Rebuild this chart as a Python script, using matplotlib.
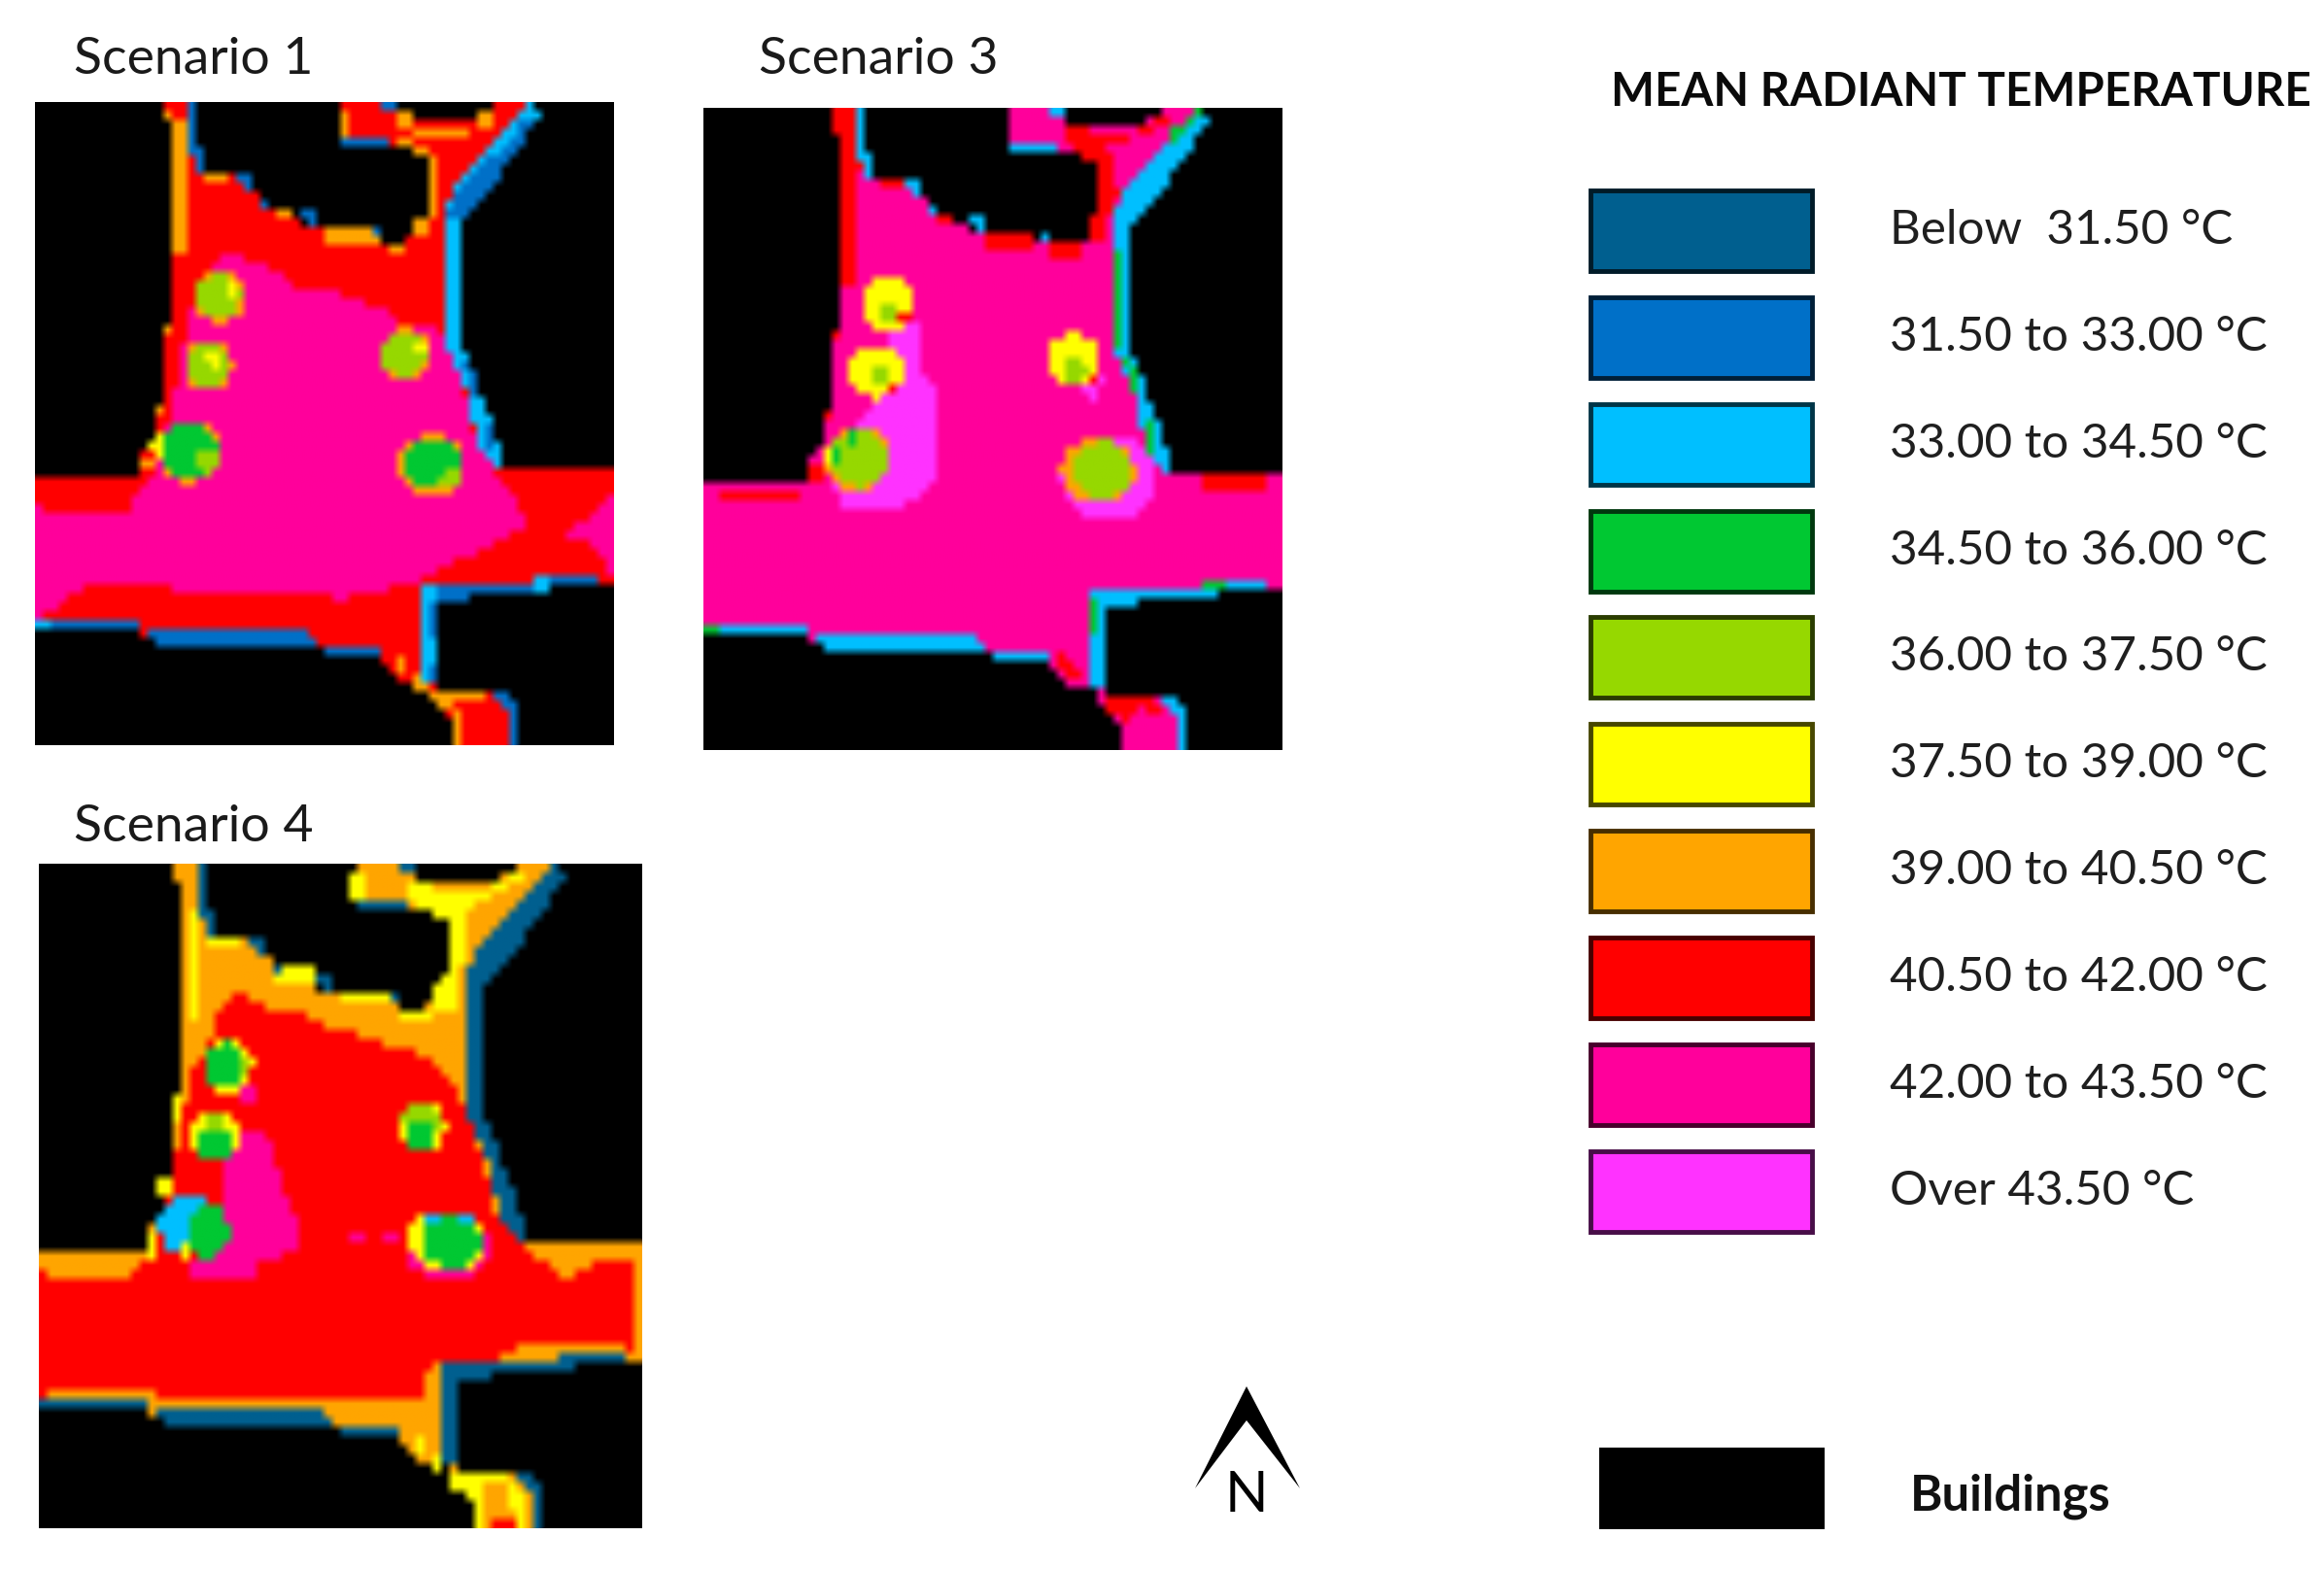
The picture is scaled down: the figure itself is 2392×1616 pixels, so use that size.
import numpy as np
import matplotlib
matplotlib.use("Agg")
import matplotlib.pyplot as plt
from matplotlib.colors import ListedColormap
from matplotlib.patches import Polygon, Rectangle
from matplotlib.path import Path

plt.rcParams["font.family"] = ["Lato", "DejaVu Sans"]

# legend
CLASS_LABELS = ["Below  31.50 °C", "31.50 to 33.00 °C", "33.00 to 34.50 °C", "34.50 to 36.00 °C",
                "36.00 to 37.50 °C", "37.50 to 39.00 °C", "39.00 to 40.50 °C", "40.50 to 42.00 °C",
                "42.00 to 43.50 °C", "Over 43.50 °C"]
CLASS_COLORS = ["#005f8f", "#0070c8", "#00bfff", "#00c832", "#96d800",
                "#ffff00", "#ffa500", "#ff0000", "#ff009b", "#ff32ff"]
BUILDING_COLOR = "#000000"
DBLUE, MBLUE, CYAN, GREEN, LIME, YELLOW, ORANGE, RED, PINK, OVER = range(10)
BUILDING = 10

GRID_N = 72

# frames of each map: the coordinates its polygons were read in
FRAME_1 = (80, 1455, 205, 1503)
FRAME_3 = (100, 1473, 108, 1510)
FRAME_4 = (92, 1522, 155, 1495)

# outline of the open space, same in every scenario (frame 1)
STREET = [(385, 205), (460, 205), (445, 290), (470, 310), (490, 345), (550, 350), (600, 385), (650, 425),
          (735, 455), (760, 465), (880, 480), (940, 495), (985, 475), (1015, 430), (1015, 325), (985, 310),
          (930, 290), (800, 280), (800, 205), (930, 205), (925, 230), (1000, 240), (1130, 235), (1190, 205),
          (1250, 205), (1285, 230), (1120, 420), (1095, 430), (1095, 690), (1115, 730), (1145, 810),
          (1175, 860), (1180, 920), (1205, 945), (1455, 945), (1455, 1175), (1310, 1175), (1310, 1195),
          (1040, 1205), (1040, 1295), (1015, 1295), (1015, 1330), (1040, 1355), (1040, 1390), (1180, 1400),
          (1230, 1440), (1235, 1503), (1075, 1503), (1075, 1450), (1040, 1430), (1010, 1385), (940, 1385),
          (935, 1370), (900, 1320), (770, 1320), (735, 1295), (360, 1295), (330, 1272), (320, 1272),
          (80, 1272), (80, 970), (330, 970), (330, 930), (358, 880), (358, 810), (385, 810), (385, 650),
          (410, 650), (410, 250), (385, 250)]

SHADE_BAND = [
    [(1190, 270), (1245, 205), (1285, 230), (1120, 430), (1095, 440), (1045, 440), (1070, 380)],
    [(1045, 430), (1095, 430), (1095, 690), (1115, 730), (1145, 810), (1175, 860), (1180, 920), (1205, 950),
     (1180, 950), (1130, 900), (1110, 800), (1075, 720), (1045, 670)],
    [(990, 1185), (1040, 1185), (1040, 1390), (1010, 1375), (990, 1340)],
]
SHADE_LINES = [
    [(80, 1250), (320, 1250), (330, 1274), (80, 1274)],
    [(355, 1275), (735, 1275), (740, 1297), (360, 1297)],
    [(770, 1300), (900, 1300), (905, 1322), (770, 1322)],
    [(1040, 1185), (1260, 1185), (1265, 1160), (1420, 1160), (1420, 1178), (1310, 1180), (1310, 1204), (1040, 1206)],
    [(440, 205), (460, 205), (460, 290), (490, 310), (490, 345), (470, 340), (440, 290)],
    [(800, 275), (925, 275), (930, 297), (800, 297)],
    [(905, 205), (930, 205), (930, 228), (905, 228)],
    [(550, 350), (600, 350), (600, 390), (575, 375)],
    [(615, 395), (640, 395), (640, 418), (615, 418)],
    [(690, 415), (740, 415), (740, 460), (715, 445)],
    [(880, 462), (905, 462), (905, 484), (880, 484)],
    [(1170, 1390), (1200, 1400), (1235, 1440), (1235, 1503), (1210, 1503), (1205, 1440), (1170, 1412)],
]
EDGES = [
    [(410, 250), (437, 250), (437, 505), (410, 505)],
    [(385, 225), (412, 225), (412, 250), (385, 250)],
    [(385, 648), (412, 648), (412, 672), (385, 672)],
    [(358, 810), (385, 810), (385, 835), (358, 835)],
    [(330, 928), (358, 928), (358, 952), (330, 952)],
    [(490, 347), (545, 347), (545, 367), (490, 367)],
    [(655, 416), (690, 416), (690, 437), (655, 437)],
    [(765, 462), (900, 462), (900, 486), (765, 486)],
    [(925, 486), (960, 486), (960, 508), (925, 508)],
    [(985, 440), (1015, 440), (1015, 478), (985, 478)],
    [(1015, 322), (1042, 322), (1042, 436), (1015, 436)],
    [(800, 222), (822, 222), (822, 272), (800, 272)],
    [(930, 232), (985, 232), (985, 252), (930, 252)],
    [(985, 254), (1115, 254), (1115, 272), (985, 272)],
    [(930, 274), (985, 274), (985, 296), (930, 296)],
    [(985, 295), (1015, 295), (1015, 322), (985, 322)],
    [(1125, 232), (1175, 232), (1175, 252), (1125, 252)],
    [(935, 1320), (960, 1320), (960, 1366), (935, 1366)],
    [(985, 1366), (1012, 1366), (1012, 1388), (985, 1388)],
    [(1020, 1392), (1150, 1392), (1150, 1412), (1020, 1412)],
    [(1040, 1412), (1072, 1412), (1072, 1434), (1040, 1434)],
    [(1075, 1436), (1097, 1436), (1097, 1496), (1075, 1496)],
]

# scenario 1 (frame 1)
S1_CORE = [(80, 1020), (130, 1040), (290, 1040), (340, 980), (370, 950), (410, 790), (430, 710), (440, 650),
           (470, 560), (540, 510), (580, 525), (650, 545), (700, 580), (800, 590), (900, 620), (950, 650),
           (1040, 665), (1070, 720), (1100, 800), (1130, 900), (1190, 970), (1250, 1050), (1200, 1090),
           (1080, 1130), (1000, 1170), (900, 1190), (800, 1210), (700, 1190), (480, 1190), (200, 1180),
           (120, 1230), (80, 1250)]
S1_CORE_E = [(1340, 1080), (1450, 1000), (1450, 1160), (1400, 1090)]
S1_DEEP = [[(1070, 400), (1100, 360), (1190, 300), (1240, 240), (1262, 255), (1120, 430), (1085, 440), (1060, 440)],
           [(1100, 730), (1118, 730), (1130, 795), (1112, 795)],
           [(1140, 860), (1170, 860), (1175, 910), (1150, 900)],
           [(1010, 1210), (1040, 1210), (1040, 1290), (1010, 1300)],
           [(1020, 1335), (1040, 1355), (1040, 1385), (1015, 1370)]]
S1_CYAN = [[(1260, 1160), (1310, 1160), (1310, 1198), (1260, 1198)],
           [(80, 1250), (110, 1250), (110, 1274), (80, 1274)]]
# (colour, cx, cy, rx, ry)
S1_TREES = [(ORANGE, 520, 600, 60, 52), (LIME, 515, 598, 54, 46), (YELLOW, 548, 590, 16, 16),
            (ORANGE, 492, 738, 58, 52), (LIME, 488, 736, 52, 46), (YELLOW, 505, 722, 18, 18),
            (ORANGE, 960, 715, 60, 52), (LIME, 955, 712, 54, 46), (YELLOW, 995, 705, 14, 14),
            (ORANGE, 447, 912, 76, 62), (GREEN, 445, 910, 68, 54), (LIME, 490, 930, 26, 26), (YELLOW, 370, 900, 14, 30),
            (ORANGE, 1020, 938, 82, 62), (GREEN, 1022, 935, 70, 54), (LIME, 1065, 965, 24, 18)]

# scenario 3 (frame 3)
S3_RED = [[(950, 135), (1020, 160), (1130, 160), (1200, 125), (1195, 150), (1060, 190), (1085, 290), (1060, 340),
           (1060, 400), (1010, 410), (1010, 360), (1040, 320), (1035, 230), (985, 205), (950, 185)],
          [(405, 110), (455, 110), (455, 200), (480, 240), (455, 260), (455, 500), (430, 500), (430, 200), (405, 150)],
          [(510, 258), (570, 258), (570, 282), (510, 282)], [(650, 335), (700, 335), (700, 357), (650, 357)],
          [(760, 385), (890, 385), (890, 410), (760, 410)], [(925, 408), (1005, 408), (1005, 432), (925, 432)],
          [(405, 590), (430, 590), (430, 615), (405, 615)], [(380, 765), (402, 765), (402, 790), (380, 790)],
          [(350, 890), (378, 890), (378, 932), (350, 932)], [(130, 942), (320, 942), (320, 966), (130, 966)],
          [(1285, 912), (1440, 912), (1440, 936), (1285, 936)],
          [(930, 1290), (1000, 1340), (1000, 1362), (955, 1362)],
          [(1045, 1388), (1170, 1388), (1195, 1440), (1130, 1412), (1130, 1440), (1090, 1445), (1045, 1412)]]
S3_OVER = [[(540, 600), (620, 570), (620, 690), (650, 720), (650, 930), (560, 985), (430, 985), (400, 920),
            (470, 790), (560, 700)],
           [(990, 700), (1050, 690), (1030, 755), (990, 730)]]
S3_GREEN = [[(1065, 410), (1088, 410), (1088, 630), (1065, 630)],
            [(1095, 650), (1112, 650), (1145, 760), (1125, 745)],
            [(1145, 790), (1168, 790), (1170, 875), (1148, 860)],
            [(1270, 108), (1290, 112), (1215, 190), (1195, 175)],
            [(1010, 1170), (1035, 1170), (1035, 1265), (1010, 1265)],
            [(1285, 1140), (1330, 1140), (1330, 1162), (1285, 1162)],
            [(105, 1240), (130, 1240), (130, 1265), (105, 1265)]]
S3_TREES = [(OVER, 1060, 915, 112, 96),
            (YELLOW, 540, 535, 64, 58), (LIME, 540, 555, 26, 26), (RED, 578, 572, 14, 12),
            (YELLOW, 510, 685, 64, 56), (LIME, 518, 695, 20, 20), (RED, 552, 722, 14, 12),
            (YELLOW, 978, 658, 62, 56), (LIME, 978, 682, 28, 26), (RED, 1020, 695, 14, 12),
            (ORANGE, 465, 875, 80, 70), (LIME, 470, 875, 70, 62), (GREEN, 416, 862, 18, 24), (GREEN, 445, 828, 16, 12),
            (YELLOW, 390, 860, 12, 22),
            (ORANGE, 1035, 900, 88, 70), (LIME, 1045, 898, 72, 62)]

# scenario 4 (frame 4)
S4_CORE = [(515, 470), (520, 450), (570, 415), (600, 440), (720, 460), (800, 490), (900, 515), (980, 530), (1030, 560),
           (1085, 610), (1115, 670), (1145, 760), (1175, 870), (1240, 930), (1320, 970), (1350, 1000), (1370, 970),
           (1455, 950), (1510, 950), (1510, 1145), (1450, 1120), (1230, 1125), (1220, 1145), (1110, 1165), (1020, 1170),
           (1000, 1235), (400, 1235), (340, 1212), (140, 1212), (100, 1235), (92, 975), (140, 995), (290, 995),
           (345, 955), (375, 900), (405, 790), (430, 690), (455, 560), (490, 530)]
S4_PINK = [[(520, 760), (570, 690), (655, 710), (660, 800), (690, 840), (715, 890), (710, 930), (600, 965), (600, 995),
            (455, 995), (455, 960), (520, 900)],
           [(828, 898), (858, 898), (858, 926), (828, 926)], [(915, 898), (945, 898), (945, 926), (915, 926)],
           [(570, 610), (600, 610), (600, 640), (570, 640)]]
S4_YELLOW = [[(440, 240), (462, 240), (462, 470), (440, 470)], [(408, 615), (432, 615), (432, 680), (408, 680)],
             [(378, 788), (402, 788), (402, 830), (378, 830)], [(345, 905), (372, 905), (372, 948), (345, 948)],
             [(835, 170), (860, 170), (860, 222), (835, 222)], [(965, 190), (1000, 190), (1060, 215), (1170, 200),
              (1250, 160), (1260, 180), (1110, 250), (1110, 350), (1085, 370), (1075, 450), (1030, 450), (1030, 400),
              (1060, 385), (1060, 270), (965, 225)],
             [(490, 298), (570, 298), (570, 325), (490, 325)], [(640, 368), (740, 368), (740, 392), (640, 392)],
             [(800, 422), (920, 422), (920, 442), (800, 442)], [(945, 448), (1030, 448), (1030, 468), (945, 468)],
             [(975, 1310), (1005, 1310), (1020, 1355), (980, 1355)], [(1030, 1355), (1055, 1355), (1055, 1382), (1030, 1382)],
             [(1060, 1385), (1200, 1385), (1250, 1440), (1250, 1495), (1225, 1495), (1200, 1410), (1140, 1410),
              (1145, 1495), (1120, 1495), (1115, 1435), (1060, 1410)]]
S4_REDBIT = [[(1170, 1476), (1225, 1476), (1225, 1495), (1170, 1495)]]
S4_TREES = [(PINK, 1065, 935, 102, 62),
            (YELLOW, 540, 562, 60, 54), (GREEN, 535, 562, 52, 46), (LIME, 575, 565, 16, 22),
            (YELLOW, 512, 708, 60, 50), (GREEN, 510, 715, 46, 38), (LIME, 512, 682, 26, 22),
            (YELLOW, 1000, 685, 58, 50), (LIME, 1000, 672, 48, 32), (GREEN, 995, 702, 34, 28),
            (CYAN, 445, 885, 70, 60), (GREEN, 495, 895, 46, 56), (YELLOW, 440, 938, 14, 12),
            (YELLOW, 1060, 915, 94, 62), (CYAN, 1065, 885, 64, 32), (GREEN, 1070, 920, 70, 50)]


def ellipse_verts(cx, cy, rx, ry):
    t = np.linspace(0, 2 * np.pi, 24, endpoint=False)
    return list(zip(cx + rx * np.cos(t), cy + ry * np.sin(t)))


def paint(grid, verts, frame, cls):
    x0, x1, y0, y1 = frame
    v = np.array(verts, float)
    v = np.column_stack([(v[:, 0] - x0) / (x1 - x0) * GRID_N, (v[:, 1] - y0) / (y1 - y0) * GRID_N])
    xx, yy = np.meshgrid(np.arange(GRID_N) + 0.5, np.arange(GRID_N) + 0.5)
    inside = Path(v).contains_points(np.column_stack([xx.ravel(), yy.ravel()])).reshape(GRID_N, GRID_N)
    grid[inside] = cls


def paint_all(grid, polys, frame, cls):
    for p in polys:
        paint(grid, p, frame, cls)


def paint_trees(grid, trees, frame):
    for cls, cx, cy, rx, ry in trees:
        paint(grid, ellipse_verts(cx, cy, rx, ry), frame, cls)


def scenario_1():
    g = np.full((GRID_N, GRID_N), BUILDING)
    paint(g, STREET, FRAME_1, RED)
    paint(g, S1_CORE, FRAME_1, PINK)
    paint(g, S1_CORE_E, FRAME_1, PINK)
    paint_all(g, EDGES, FRAME_1, ORANGE)
    paint_all(g, SHADE_BAND, FRAME_1, CYAN)
    paint_all(g, SHADE_LINES, FRAME_1, MBLUE)
    paint_all(g, S1_DEEP, FRAME_1, MBLUE)
    paint_all(g, S1_CYAN, FRAME_1, CYAN)
    paint_trees(g, S1_TREES, FRAME_1)
    return g


def scenario_3():
    g = np.full((GRID_N, GRID_N), BUILDING)
    paint(g, STREET, FRAME_1, PINK)
    paint_all(g, S3_RED, FRAME_3, RED)
    paint_all(g, S3_OVER, FRAME_3, OVER)
    paint_all(g, SHADE_BAND, FRAME_1, CYAN)
    paint_all(g, SHADE_LINES, FRAME_1, CYAN)
    paint_all(g, S3_GREEN, FRAME_3, GREEN)
    paint_trees(g, S3_TREES, FRAME_3)
    return g


def scenario_4():
    g = np.full((GRID_N, GRID_N), BUILDING)
    paint(g, STREET, FRAME_1, ORANGE)
    paint(g, S4_CORE, FRAME_4, RED)
    paint_all(g, S4_PINK, FRAME_4, PINK)
    paint_all(g, S4_YELLOW, FRAME_4, YELLOW)
    paint_all(g, S4_REDBIT, FRAME_4, RED)
    paint_all(g, SHADE_BAND, FRAME_1, DBLUE)
    paint_all(g, SHADE_LINES, FRAME_1, DBLUE)
    paint_trees(g, S4_TREES, FRAME_4)
    return g


W, H = 2392, 1616
fig = plt.figure(figsize=(W / 100, H / 100), dpi=100)
ax = fig.add_axes([0, 0, 1, 1])
cmap = ListedColormap(CLASS_COLORS + [BUILDING_COLOR])

maps = [("Scenario 1", scenario_1(), (36, 632, 767, 105), (76, 61)),
        ("Scenario 3", scenario_3(), (724, 1320, 772, 111), (781, 61)),
        ("Scenario 4", scenario_4(), (40, 661, 1573, 889), (76, 851))]
for title, grid, extent, title_pos in maps:
    rgb = cmap(grid / 10.0)[:, :, :3]
    ax.imshow(rgb, extent=extent, aspect="auto", interpolation="bilinear", zorder=1)
    ax.text(title_pos[0], title_pos[1], title, fontsize=38.5, va="center", ha="left", color="#1a1a1a")

# legend swatches
SWATCH_X, SWATCH_W, SWATCH_H = 1637, 228, 83
SWATCH_TOPS = [196, 306, 416, 526, 635, 745, 855, 965, 1075, 1185]
for top, col, label in zip(SWATCH_TOPS, CLASS_COLORS, CLASS_LABELS):
    rgb = np.array(matplotlib.colors.to_rgb(col))
    ax.add_patch(Rectangle((SWATCH_X, top), SWATCH_W, SWATCH_H, facecolor=col, edgecolor=rgb * 0.28, lw=3.5, zorder=2))
    ax.text(1945, top + 41, label, fontsize=35.5, va="center", ha="left", color="#1f1f1f")

ax.text(1658, 95, "MEAN RADIANT TEMPERATURE", fontsize=34.2, fontweight="bold", va="center", ha="left", color="#0a0a0a")

ax.add_patch(Rectangle((1646, 1490), 232, 84, facecolor=BUILDING_COLOR, edgecolor="none", zorder=2))
ax.text(1966, 1540, "Buildings", fontsize=36.5, fontweight="bold", va="center", ha="left", color="#111111")

# north arrow
ax.add_patch(Polygon([(1283, 1427), (1230, 1532), (1283, 1462), (1338, 1532)], facecolor="black", edgecolor="none", zorder=2))
ax.text(1283, 1540, "N", fontsize=42, va="center", ha="center", color="black")

ax.set_xlim(0, W)
ax.set_ylim(H, 0)
ax.axis("off")

fig.savefig("out.png", dpi=100, facecolor="white")
